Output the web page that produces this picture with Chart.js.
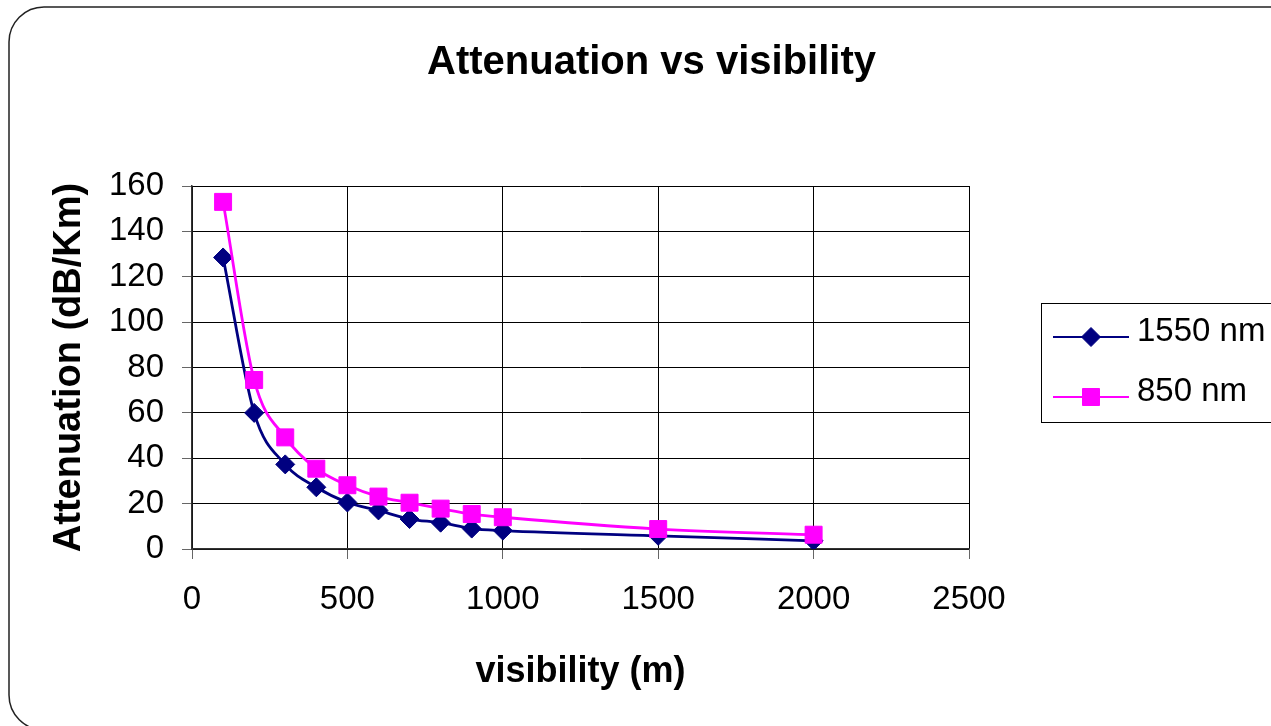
<!DOCTYPE html>
<html>
<head>
<meta charset="utf-8">
<script src="https://cdn.jsdelivr.net/npm/chart.js@4/dist/chart.umd.min.js"></script>
<style>
  html, body { margin: 0; padding: 0; background: #ffffff; }
  #wrap { width: 1271px; height: 726px; }
</style>
</head>
<body>
<div id="wrap"><canvas id="c" width="1271" height="726"></canvas></div>
<script>
const chartTitle = "Attenuation vs visibility";
const xTitle = "visibility (m)";
const yTitle = "Attenuation (dB/Km)";
const seriesNames = ["1550 nm", "850 nm"];
const visibility = [100, 200, 300, 400, 500, 600, 700, 800, 900, 1000, 1500, 2000];
const att1550 = [128.5, 60, 37.3, 27.2, 20.5, 17, 13.2, 11.6, 9, 8.1, 5.8, 3.6];
const att850 = [153, 74.5, 49.2, 35.4, 28.1, 23.1, 20.4, 17.8, 15.4, 14, 8.8, 6.3];
const xTicks = [0, 500, 1000, 1500, 2000, 2500];
const yTicks = [0, 20, 40, 60, 80, 100, 120, 140, 160];

const FONT = "'Liberation Sans', Arial, sans-serif";

const frame = {
  id: 'frame',
  beforeDraw(chart) {
    const ctx = chart.ctx;
    ctx.save();
    ctx.fillStyle = '#ffffff';
    ctx.fillRect(0, 0, chart.width, chart.height);
    ctx.strokeStyle = '#222';
    ctx.lineWidth = 1.5;
    ctx.beginPath();
    ctx.roundRect(9, 7, 1320, 723, 35);
    ctx.stroke();
    ctx.restore();
  }
};

const customLegend = {
  id: 'customLegend',
  afterDraw(chart) {
    const ctx = chart.ctx;
    ctx.save();
    ctx.strokeStyle = '#000';
    ctx.lineWidth = 1;
    ctx.strokeRect(1041.5, 303.5, 300, 119);
    const rows = [337, 397];
    chart.data.datasets.forEach((ds, i) => {
      const y = rows[i];
      ctx.strokeStyle = ds.borderColor;
      ctx.lineWidth = 2;
      ctx.beginPath();
      ctx.moveTo(1053, y);
      ctx.lineTo(1129, y);
      ctx.stroke();
      ctx.fillStyle = ds.pointBackgroundColor;
      ctx.strokeStyle = ds.pointBorderColor;
      ctx.lineWidth = 1;
      Chart.helpers.drawPoint(ctx, {pointStyle: ds.pointStyle, radius: ds.pointRadius, borderWidth: 1}, 1091, y);
      ctx.fillStyle = '#000';
      ctx.font = "33px " + FONT;
      ctx.textBaseline = 'middle';
      ctx.textAlign = 'left';
      ctx.fillText(ds.label, 1137, y - 5);
    });
    ctx.restore();
  }
};

new Chart(document.getElementById('c'), {
  type: 'scatter',
  data: {
    datasets: [
      {
        label: seriesNames[0],
        data: visibility.map((v, i) => ({x: v, y: att1550[i]})),
        showLine: true,
        borderColor: '#000080',
        backgroundColor: '#000080',
        pointBackgroundColor: '#000080',
        pointBorderColor: '#000080',
        pointStyle: 'rectRot',
        pointRadius: 9.5,
        pointBorderWidth: 1,
        borderWidth: 2.8,
        cubicInterpolationMode: 'monotone',
        order: 1
      },
      {
        label: seriesNames[1],
        data: visibility.map((v, i) => ({x: v, y: att850[i]})),
        showLine: true,
        borderColor: '#FF00FF',
        backgroundColor: '#FF00FF',
        pointBackgroundColor: '#FF00FF',
        pointBorderColor: '#FF00FF',
        pointStyle: 'rect',
        pointRadius: 12,
        pointBorderWidth: 1,
        borderWidth: 2.8,
        cubicInterpolationMode: 'monotone',
        order: 0
      }
    ]
  },
  options: {
    responsive: false,
    animation: false,
    devicePixelRatio: 1,
    layout: { padding: { left: 32, top: 0, right: 0, bottom: 0 } },
    plugins: {
      legend: { display: false },
      tooltip: { enabled: false },
      title: {
        display: true,
        text: chartTitle,
        color: '#000',
        font: { family: FONT, size: 40, weight: 'bold', lineHeight: 1.2 },
        padding: { top: 39, bottom: 99 }
      }
    },
    scales: {
      x: {
        type: 'linear',
        min: 0, max: 2500,
        afterFit(scale) { scale.height = 177; },
        afterBuildTicks(scale) { scale.ticks = xTicks.map(v => ({value: v})); },
        ticks: {
          color: '#000',
          font: { family: FONT, size: 33, lineHeight: 1.2 },
          padding: 21,
          maxRotation: 0,
          callback: (v) => String(v)
        },
        grid: { color: '#000', lineWidth: 1, tickLength: 10, tickColor: '#666', drawTicks: true },
        border: { color: '#333', width: 1.5 },
        title: {
          display: true,
          text: xTitle,
          color: '#000',
          font: { family: FONT, size: 36, weight: 'bold', lineHeight: 1.2 },
          padding: { top: 0, bottom: 32.4 }
        }
      },
      y: {
        type: 'linear',
        min: 0, max: 160,
        afterFit(scale) { scale.width = 160; },
        afterBuildTicks(scale) { scale.ticks = yTicks.map(v => ({value: v})); },
        ticks: {
          color: '#000',
          font: { family: FONT, size: 33, lineHeight: 1.2 },
          padding: 18,
          callback: (v) => String(v)
        },
        grid: { color: '#000', lineWidth: 1, tickLength: 10, tickColor: '#666', drawTicks: true },
        border: { color: '#333', width: 1.5 },
        title: {
          display: true,
          text: yTitle,
          color: '#000',
          font: { family: FONT, size: 38, weight: 'bold', lineHeight: 1.2 },
          padding: { top: 15, bottom: 0 }
        }
      },
      spacer: {
        type: 'linear',
        position: 'right',
        display: true,
        afterFit(scale) { scale.width = 302; },
        ticks: { display: false },
        grid: { display: false, drawTicks: false },
        border: { display: false },
        title: { display: false }
      }
    }
  },
  plugins: [frame, customLegend]
});
</script>
</body>
</html>
